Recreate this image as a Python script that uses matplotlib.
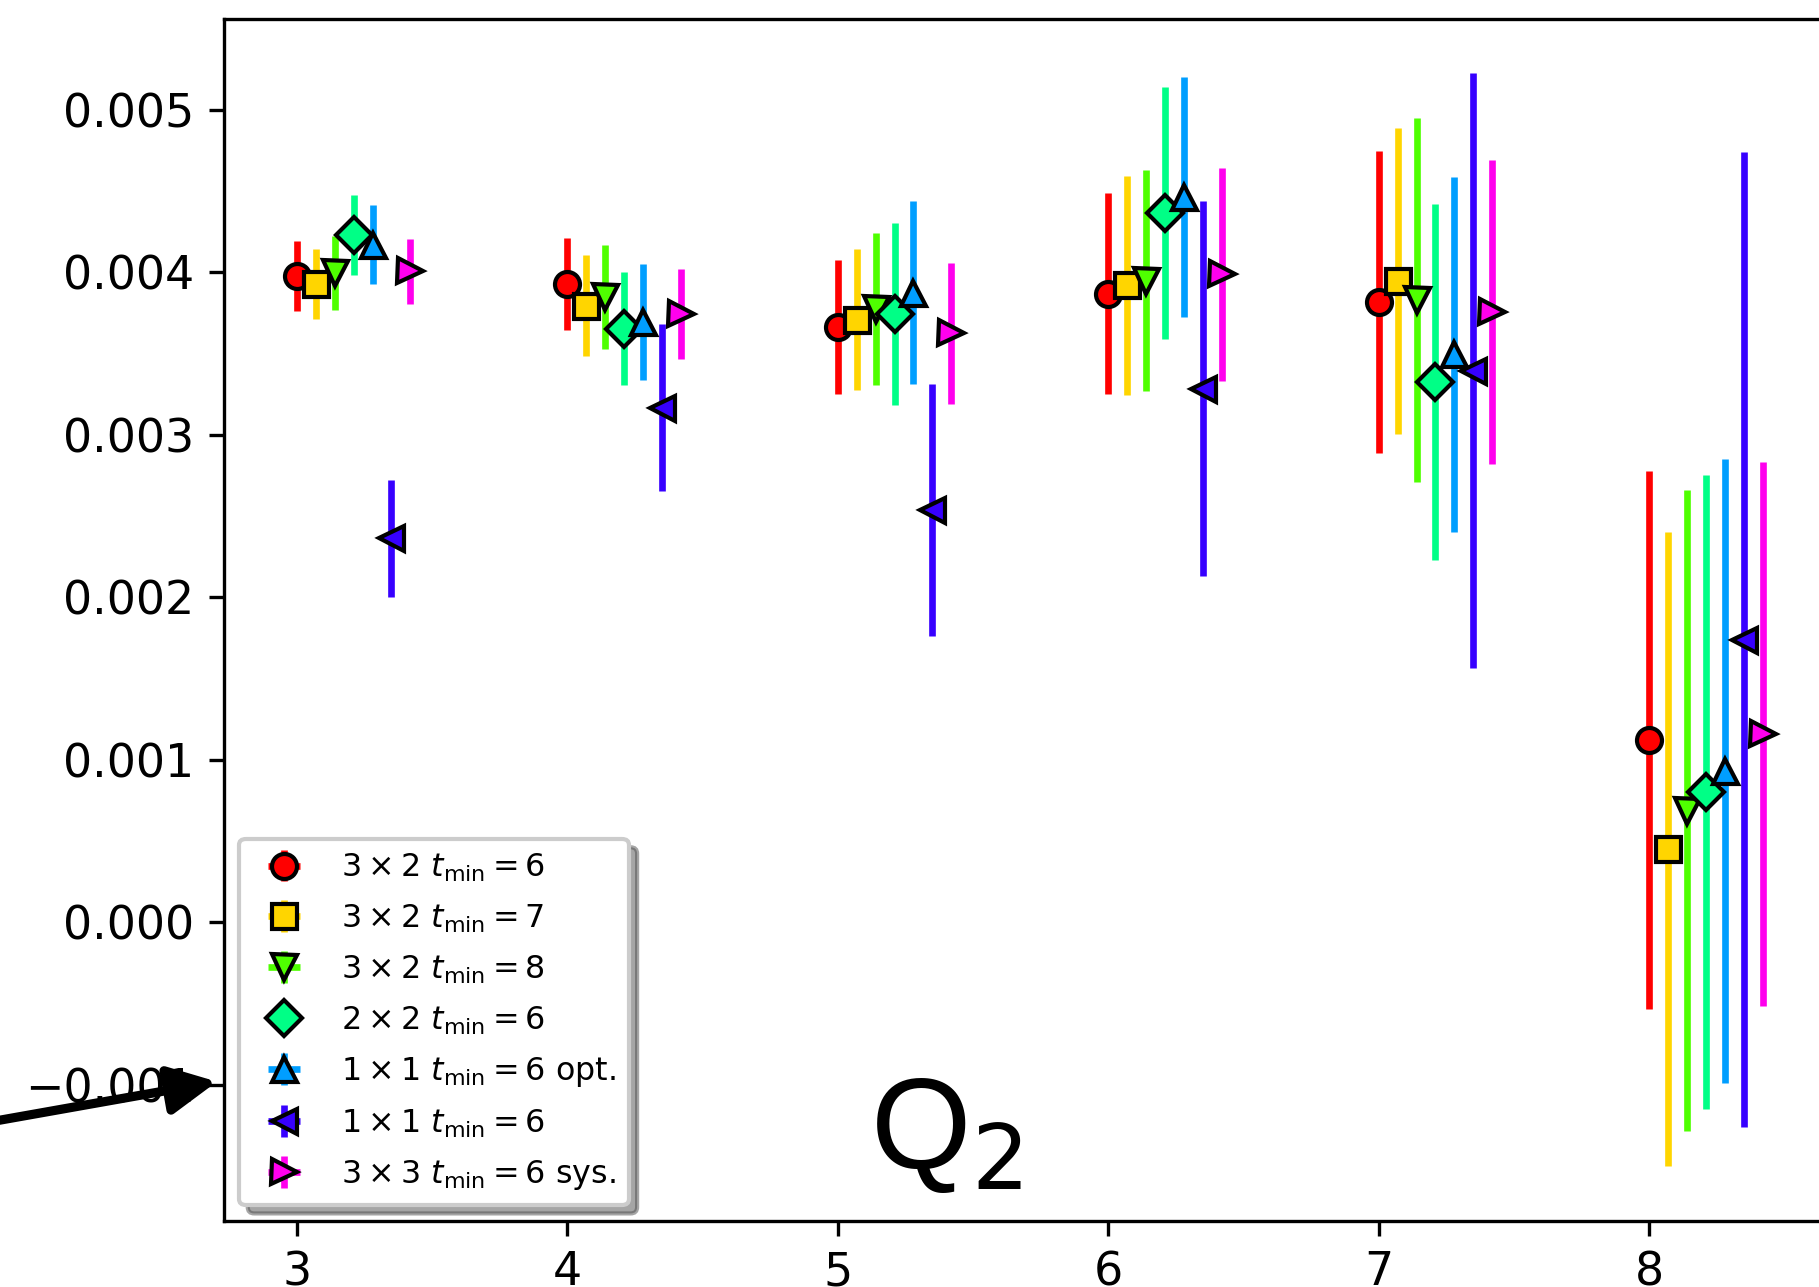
import matplotlib
matplotlib.use("Agg")
import matplotlib.pyplot as plt

# ---------------- data ----------------
x_base = [3, 4, 5, 6, 7, 8]
xticks = [3, 4, 5, 6, 7, 8]

labels = [
    r"$3\times2\ t_{\rm min}=6$",
    r"$3\times2\ t_{\rm min}=7$",
    r"$3\times2\ t_{\rm min}=8$",
    r"$2\times2\ t_{\rm min}=6$",
    r"$1\times1\ t_{\rm min}=6$ opt.",
    r"$1\times1\ t_{\rm min}=6$",
    r"$3\times3\ t_{\rm min}=6$ sys.",
]
markers = ["o", "s", "v", "D", "^", "<", ">"]

val_3x2_t6 = [0.003978, 0.003927, 0.003662, 0.003867, 0.003818, 0.001121]
err_3x2_t6 = [0.000215, 0.000280, 0.000410, 0.000617, 0.000930, 0.001657]

val_3x2_t7 = [0.003927, 0.003793, 0.003707, 0.003918, 0.003944, 0.000449]
err_3x2_t7 = [0.000213, 0.000310, 0.000433, 0.000672, 0.000940, 0.001950]

val_3x2_t8 = [0.003996, 0.003847, 0.003774, 0.003946, 0.003827, 0.000688]
err_3x2_t8 = [0.000226, 0.000322, 0.000468, 0.000680, 0.001120, 0.001970]

val_2x2_t6 = [0.004230, 0.003652, 0.003742, 0.004364, 0.003323, 0.000804]
err_2x2_t6 = [0.000246, 0.000347, 0.000560, 0.000776, 0.001095, 0.001950]

val_1x1_opt = [0.004167, 0.003694, 0.003874, 0.004461, 0.003494, 0.000931]
err_1x1_opt = [0.000243, 0.000356, 0.000564, 0.000740, 0.001090, 0.001918]

val_1x1_t6 = [0.002362, 0.003167, 0.002537, 0.003284, 0.003394, 0.001740]
err_1x1_t6 = [0.000360, 0.000515, 0.000774, 0.001152, 0.001830, 0.002998]

val_3x3_sys = [0.004004, 0.003742, 0.003623, 0.003988, 0.003754, 0.001159]
err_3x3_sys = [0.000201, 0.000275, 0.000434, 0.000655, 0.000933, 0.001675]

values = [val_3x2_t6, val_3x2_t7, val_3x2_t8, val_2x2_t6, val_1x1_opt, val_1x1_t6, val_3x3_sys]
errors = [err_3x2_t6, err_3x2_t7, err_3x2_t8, err_2x2_t6, err_1x1_opt, err_1x1_t6, err_3x3_sys]

# ---------------- figure ----------------
plt.rcParams["font.size"] = 11
W, H, DPI = 1819, 1287, 300
fig = plt.figure(figsize=(W / DPI, H / DPI), dpi=DPI)
# axes extends past the right border (the reference is a crop)
ax = fig.add_axes([223.5 / W, 66 / H, (1836 - 223.5) / W, 1202.5 / H])

cmap = plt.get_cmap("hsv")
n = len(values)
for i in range(n):
    xs = [xb + 0.07 * i for xb in x_base]
    ax.errorbar(xs, values[i], yerr=errors[i], xerr=[0] * len(xs),
                fmt=markers[i], color=cmap(i / n), mfc=cmap(i / n),
                mec="black", mew=1.0, ms=6, elinewidth=1.6, capsize=0,
                label=labels[i])

ax.set_xticks(xticks)
leg = ax.legend(loc="lower left", fontsize="x-small", shadow=True,
                labelspacing=0.58)

ax.text(5.40, -0.00151, r"Q$_2$", fontsize=31, family="Liberation Sans",
        ha="center", va="baseline")

ax.annotate("", xy=(2.705, -0.00098), xytext=(-62, -11), textcoords="offset points",
            xycoords="data", annotation_clip=False,
            arrowprops=dict(arrowstyle="-|>", color="black", lw=2.2,
                            mutation_scale=24, shrinkA=0, shrinkB=0))

fig.savefig("out.png", dpi=DPI)
